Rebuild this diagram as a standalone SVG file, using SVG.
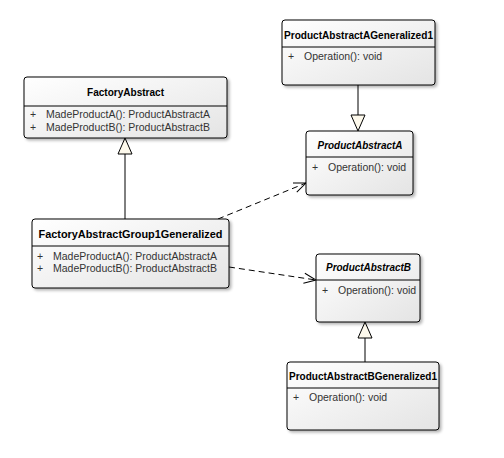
<svg xmlns="http://www.w3.org/2000/svg" width="504" height="458" viewBox="0 0 504 458">
<defs>
<linearGradient id="g" x1="0" y1="0" x2="1" y2="1">
<stop offset="0" stop-color="#ffffff"/>
<stop offset="1" stop-color="#e4e4e4"/>
</linearGradient>
<filter id="sh" x="-10%" y="-10%" width="130%" height="130%">
<feGaussianBlur in="SourceAlpha" stdDeviation="1.5"/>
<feOffset dx="2" dy="2"/>
<feComponentTransfer><feFuncA type="linear" slope="0.3"/></feComponentTransfer>
<feMerge><feMergeNode/><feMergeNode in="SourceGraphic"/></feMerge>
</filter>
<marker id="open" markerWidth="14" markerHeight="12" refX="13" refY="6" orient="auto" markerUnits="userSpaceOnUse">
<path d="M1,1 L13,6 L1,11" fill="none" stroke="#000" stroke-width="1"/>
</marker>
</defs>
<style>
.box{fill:url(#g);stroke:#000;stroke-width:1;filter:url(#sh)}
.div{stroke:#000;stroke-width:1}
.t{font-family:"Liberation Sans",Arial,sans-serif;font-size:11px;font-weight:bold;fill:#000;text-anchor:middle}
.ti{font-style:italic}
.r{font-family:"Liberation Sans",Arial,sans-serif;font-size:10.5px;fill:#333}
.c{fill:none;stroke:#000;stroke-width:1}
.d{stroke-dasharray:6,4}
.tri{fill:#fdf9ec;stroke:#000;stroke-width:1}
</style>
<rect width="504" height="458" fill="#fff"/>
<g id="connectors">
<path class="c" d="M358,85 V115"/>
<polygon class="tri" points="358,131 351,115 365,115"/>
<path class="c" d="M125,219 V154"/>
<polygon class="tri" points="125,138 118,154 132,154"/>
<path class="c" d="M365,362 V338"/>
<polygon class="tri" points="365,322 358,338 372,338"/>
<path class="c d" d="M218,219 L306,183" marker-end="url(#open)"/>
<path class="c d" d="M229,267 L316,280" marker-end="url(#open)"/>
</g>
<g id="FactoryAbstract">
<rect class="box" x="24" y="77" width="203" height="61" rx="3"/>
<line class="div" x1="24" y1="106" x2="227" y2="106"/>
<text class="t" x="125.5" y="96" textLength="77" lengthAdjust="spacingAndGlyphs">FactoryAbstract</text>
<text class="r" x="30" y="118">+</text><text class="r" x="46" y="118">MadeProductA(): ProductAbstractA</text>
<text class="r" x="30" y="131">+</text><text class="r" x="46" y="131">MadeProductB(): ProductAbstractB</text>
</g>
<g id="ProductAbstractAGeneralized1">
<rect class="box" x="282" y="20" width="153" height="65" rx="3"/>
<line class="div" x1="282" y1="47" x2="435" y2="47"/>
<text class="t" x="358.5" y="39" textLength="149" lengthAdjust="spacingAndGlyphs">ProductAbstractAGeneralized1</text>
<text class="r" x="288" y="60">+</text><text class="r" x="304" y="60">Operation(): void</text>
</g>
<g id="ProductAbstractA">
<rect class="box" x="306" y="131" width="107" height="64" rx="3"/>
<line class="div" x1="306" y1="157" x2="413" y2="157"/>
<text class="t ti" x="360" y="149" textLength="85" lengthAdjust="spacingAndGlyphs">ProductAbstractA</text>
<text class="r" x="312" y="171">+</text><text class="r" x="328" y="171">Operation(): void</text>
</g>
<g id="FactoryAbstractGroup1Generalized">
<rect class="box" x="32" y="219" width="197" height="69" rx="3"/>
<line class="div" x1="32" y1="246" x2="229" y2="246"/>
<text class="t" x="130.5" y="238" textLength="184" lengthAdjust="spacingAndGlyphs">FactoryAbstractGroup1Generalized</text>
<text class="r" x="37" y="260">+</text><text class="r" x="53" y="260">MadeProductA(): ProductAbstractA</text>
<text class="r" x="37" y="272">+</text><text class="r" x="53" y="272">MadeProductB(): ProductAbstractB</text>
</g>
<g id="ProductAbstractB">
<rect class="box" x="316" y="254" width="104" height="68" rx="3"/>
<line class="div" x1="316" y1="280" x2="420" y2="280"/>
<text class="t ti" x="368.5" y="271" textLength="85" lengthAdjust="spacingAndGlyphs">ProductAbstractB</text>
<text class="r" x="322" y="294">+</text><text class="r" x="338" y="294">Operation(): void</text>
</g>
<g id="ProductAbstractBGeneralized1">
<rect class="box" x="287" y="362" width="152" height="68" rx="3"/>
<line class="div" x1="287" y1="388" x2="439" y2="388"/>
<text class="t" x="363" y="380" textLength="148" lengthAdjust="spacingAndGlyphs">ProductAbstractBGeneralized1</text>
<text class="r" x="293" y="401">+</text><text class="r" x="309" y="401">Operation(): void</text>
</g>
</svg>
